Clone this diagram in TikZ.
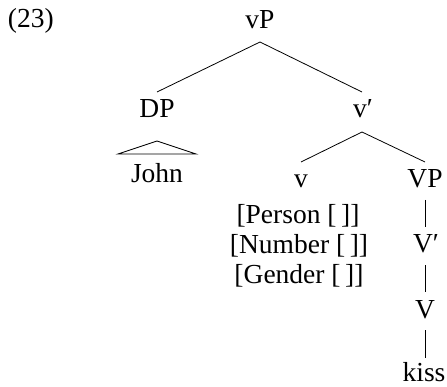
\documentclass[tikz,border=0pt]{standalone}
\usepackage{fontspec}
\setmainfont{Liberation Serif}
\begin{document}
\begin{tikzpicture}[x=1pt,y=1pt,
  lbl/.style={inner sep=0pt,outer sep=0pt,anchor=base,font=\fontsize{27.5}{32}\selectfont},
  branch/.style={line width=0.8pt}]
\useasboundingbox (0,0) rectangle (447,386);
\node[lbl,anchor=base west] (ex) at (8,358) {(23)};
\node[lbl] (vP) at (260,357) {vP};
\node[lbl] (DP) at (157,268) {DP};
\node[lbl] (vbar) at (363,268) {v′};
\node[lbl] (John) at (157,203) {John};
\node[lbl] (v) at (301,198) {v};
\node[lbl] (VP) at (425,198) {VP};
\node[lbl] (pers) at (298,163) {[Person [\,]]};
\node[lbl] (numb) at (299,133) {[Number [\,]]};
\node[lbl] (gend) at (299,103) {[Gender [\,]]};
\node[lbl] (Vbar) at (426,134) {V′};
\node[lbl] (V) at (425,68) {V};
\node[lbl] (kiss) at (424,5) {kiss};
\draw[branch] ([yshift=-13pt]vP.base) -- ([yshift=26pt]DP.base);
\draw[branch] ([yshift=-13pt]vP.base) -- ([xshift=-1pt,yshift=26pt]vbar.base);
\draw[branch] ([xshift=-1pt,yshift=-14pt]vbar.base) -- ([yshift=26pt]v.base);
\draw[branch] ([xshift=-1pt,yshift=-14pt]vbar.base) -- ([yshift=26pt]VP.base);
\draw[branch] ([yshift=-23pt]DP.base) -- ([xshift=-39pt,yshift=29pt]John.base) -- ([xshift=39pt,yshift=29pt]John.base) -- cycle;
\draw[branch] ([yshift=-12pt]VP.base) -- ([xshift=-1pt,yshift=25pt]Vbar.base);
\draw[branch] ([xshift=-1pt,yshift=-13pt]Vbar.base) -- ([yshift=26pt]V.base);
\draw[branch] ([yshift=-12pt]V.base) -- ([xshift=1pt,yshift=23pt]kiss.base);
\end{tikzpicture}
\end{document}
